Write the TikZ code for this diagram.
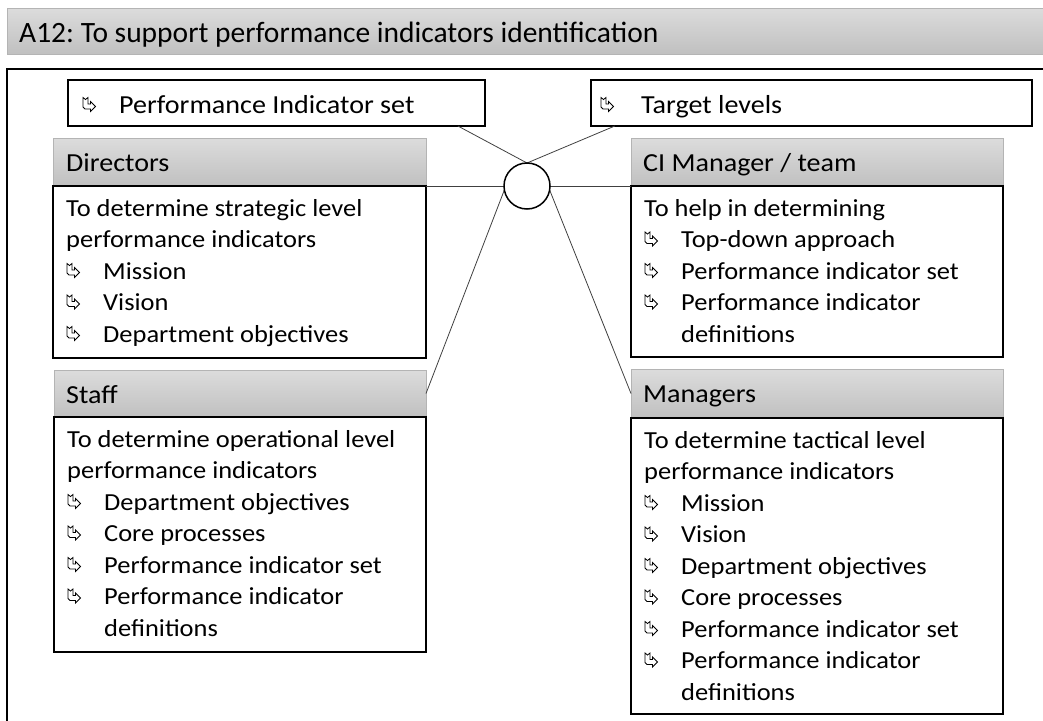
\documentclass[tikz,border=0pt]{standalone}
\usepackage{fontspec}
\setmainfont{Carlito}[FakeStretch=1.08]
\newfontfamily\titlefont{Carlito}
\usetikzlibrary{calc}
\frenchspacing
\definecolor{hdrtop}{HTML}{DCDCDC}
\definecolor{hdrbot}{HTML}{C0C0C0}
\definecolor{hdrline}{HTML}{B4B4B4}
\definecolor{conncol}{HTML}{404040}
\tikzset{
  hdrbox/.style={draw=hdrline, line width=0.8pt, top color=hdrtop, bottom color=hdrbot,
    anchor=north west, inner sep=0pt, outer sep=0pt},
  bodybox/.style={draw=black, line width=1.3pt, fill=white, anchor=north west,
    inner sep=0pt, outer sep=0pt},
  hdrtxt/.style={anchor=base west, inner sep=0pt, font=\fontsize{26}{30}\selectfont},
  bodytxt/.style={anchor=base west, inner sep=0pt, font=\fontsize{24.5}{30}\selectfont},
  connline/.style={draw=conncol, line width=0.8pt},
  bul/.pic={\draw[line width=0.8pt, fill=white, line join=miter]
    (1,-15.5) -- (3.5,-13.5) -- (6,-15.5) -- (6,-9) -- (8.5,-9) -- (8.5,-11.5) -- (13.5,-6.5)
    -- (8.5,-1.5) -- (8.5,-4) -- (3,-4) -- (1,-6) -- cycle;}
}
\newcommand\bodyblock[4]{%
  \foreach \k/\s/\t in {#4} {
    \pgfmathsetmacro\yy{#3+(\k-1)*31.5}
    \ifnum\s=0
      \node[bodytxt] (#1-\k) at (#2+13,\yy) {\t};
    \else
      \ifnum\s=1 \pic at (#2+13,\yy) {bul}; \fi
      \node[bodytxt] (#1-\k) at (#2+50,\yy) {\t};
    \fi
  }}
\begin{document}
\begin{tikzpicture}[x=1pt,y=-1pt]
\useasboundingbox (0,0) rectangle (1043,720);
\clip (0,0) rectangle (1043,720);
% title bar
\node[hdrbox, minimum width=1050pt, minimum height=46pt] (tbar) at (7,8) {};
\node[anchor=base west, inner sep=0pt, font=\titlefont\fontsize{29.5}{34}\selectfont] (title) at (19,42)
  {A12: To support performance indicators identification};
% outer frame
\draw[line width=2pt] (1050,69) -- (7,69) -- (7,730);
% top boxes
\node[bodybox, line width=1.2pt, minimum width=417pt, minimum height=46pt] (pi) at (68,80) {};
\pic at (82,113) {bul};
\node[hdrtxt] (pitxt) at (119,113) {Performance Indicator set};
\node[bodybox, line width=1.2pt, minimum width=441pt, minimum height=46pt] (tl) at (591,80) {};
\pic at (600,113) {bul};
\node[hdrtxt] (tltxt) at (641,113) {Target levels};
% Directors
\node[hdrbox, minimum width=373pt, minimum height=48pt] (dirH) at (53,138) {};
\node[bodybox, minimum width=373pt, minimum height=172pt] (dirB) at (53,186) {};
\node[hdrtxt] (dirT) at (66,171) {Directors};
\bodyblock{dir}{53}{216}{1/0/To determine strategic level, 2/0/performance indicators, 3/1/Mission, 4/1/Vision, 5/1/Department objectives}
% CI Manager
\node[hdrbox, minimum width=372pt, minimum height=48pt] (ciH) at (631,138) {};
\node[bodybox, minimum width=372pt, minimum height=171pt] (ciB) at (631,186) {};
\node[hdrtxt] (ciT) at (643,171) {CI Manager / team};
\bodyblock{ci}{631}{216}{1/0/To help in determining, 2/1/Top-down approach, 3/1/Performance indicator set, 4/1/Performance indicator, 5/2/definitions}
% Staff
\node[hdrbox, minimum width=372pt, minimum height=47pt] (stH) at (54,370) {};
\node[bodybox, minimum width=372pt, minimum height=235pt] (stB) at (54,417) {};
\node[hdrtxt] (stT) at (66,403) {Staff};
\bodyblock{st}{54}{447}{1/0/To determine operational level, 2/0/performance indicators, 3/1/Department objectives, 4/1/Core processes, 5/1/Performance indicator set, 6/1/Performance indicator, 7/2/definitions}
% Managers
\node[hdrbox, minimum width=372pt, minimum height=49pt] (mgH) at (631,369) {};
\node[bodybox, minimum width=372pt, minimum height=296pt] (mgB) at (631,418) {};
\node[hdrtxt] (mgT) at (643,402) {Managers};
\bodyblock{mg}{631}{448}{1/0/To determine tactical level, 2/0/performance indicators, 3/1/Mission, 4/1/Vision, 5/1/Department objectives, 6/1/Core processes, 7/1/Performance indicator set, 8/1/Performance indicator, 9/2/definitions}
% hub circle and connectors
\node[circle, minimum size=46pt, inner sep=0pt, outer sep=0pt] (hub) at (527,186) {};
\draw[connline] ($(pi.south west)!0.935!(pi.south east)$) -- (hub.north);
\draw[connline] ($(tl.south west)!0.054!(tl.south east)$) -- (hub.north);
\draw[connline] (dirB.north east) -- (hub.west);
\draw[connline] (hub.east) -- (ciB.north west);
\draw[connline] (stH.east) -- (hub.190);
\draw[connline] (hub.-10) -- (mgH.west);
\node[circle, draw=black, line width=1.5pt, fill=white, minimum size=46pt, inner sep=0pt, outer sep=0pt] (hubc) at (hub) {};
\end{tikzpicture}
\end{document}
